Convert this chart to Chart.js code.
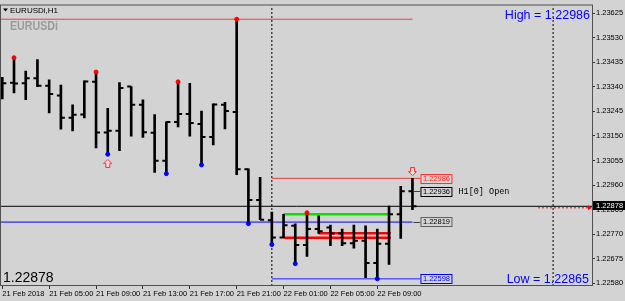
<!DOCTYPE html>
<html>
<head>
<meta charset="utf-8">
<title>EURUSDi,H1</title>
<script src="https://cdn.jsdelivr.net/npm/chart.js@4.4.1/dist/chart.umd.min.js"></script>
<style>
  html, body { margin: 0; padding: 0; background: #d3d3d3; }
  canvas { display: block; }
</style>
</head>
<body>
<canvas id="chart" width="625" height="301"></canvas>
<script>
// H1 bars from 21 Feb 01:00 to 22 Feb 12:00, index 0 = 21 Feb 01:00
var opens  = [1.23360, 1.23355, 1.23354, 1.23373, 1.23344, 1.23306, 1.23220, 1.23233, 1.23359, 1.23163,
              1.23170, 1.23341, 1.23270, 1.23162, 1.23054, 1.23204, 1.23235, 1.23196, 1.23146, 1.23270,
              1.23242, 1.23021, 1.22902, 1.22824, 1.22757, 1.22803, 1.22728, 1.22790, 1.22796, 1.22773,
              1.22735, 1.22745, 1.22659, 1.22733, 1.22847, 1.22936];
var highs  = [1.23376, 1.23452, 1.23401, 1.23445, 1.23367, 1.23346, 1.23270, 1.23363, 1.23397, 1.23257,
              1.23356, 1.23341, 1.23289, 1.23232, 1.23204, 1.23359, 1.23353, 1.23246, 1.23274, 1.23280,
              1.23601, 1.23023, 1.22990, 1.22856, 1.22847, 1.22810, 1.22853, 1.22841, 1.22805, 1.22790,
              1.22805, 1.22803, 1.22790, 1.22879, 1.22955, 1.22986];
var lows   = [1.23293, 1.23316, 1.23290, 1.23340, 1.23239, 1.23176, 1.23169, 1.23220, 1.23104, 1.23079,
              1.23093, 1.23149, 1.23144, 1.23009, 1.23004, 1.23185, 1.23149, 1.23038, 1.23115, 1.23177,
              1.23000, 1.22811, 1.22826, 1.22730, 1.22757, 1.22656, 1.22684, 1.22773, 1.22726, 1.22726,
              1.22716, 1.22602, 1.22598, 1.22653, 1.22754, 1.22865];
var closes = [1.23354, 1.23353, 1.23373, 1.23344, 1.23312, 1.23220, 1.23232, 1.23360, 1.23163, 1.23170,
              1.23335, 1.23270, 1.23164, 1.23054, 1.23204, 1.23235, 1.23200, 1.23146, 1.23271, 1.23246,
              1.23021, 1.22902, 1.22826, 1.22757, 1.22805, 1.22728, 1.22790, 1.22782, 1.22773, 1.22735,
              1.22745, 1.22659, 1.22733, 1.22847, 1.22936, 1.22878];

// fractal markers (bar indexes)
var fractalUp = [1, 8, 15, 20, 26];
var fractalDown = [9, 14, 17, 21, 23, 25, 32];

// signal arrows
var arrowUpBars = [9],    arrowUpVals = [1.23044];
var arrowDownBars = [35], arrowDownVals = [1.23012];

// axis ticks
var xTickBars = [0, 4, 8, 12, 16, 20, 24, 28, 32];
var xTickLabels = ["21 Feb 2018", "21 Feb 05:00", "21 Feb 09:00", "21 Feb 13:00", "21 Feb 17:00",
                   "21 Feb 21:00", "22 Feb 01:00", "22 Feb 05:00", "22 Feb 09:00"];
var yTicks = [1.22580, 1.22675, 1.22770, 1.22865, 1.22960, 1.23055, 1.23150, 1.23245, 1.23340,
              1.23435, 1.23530, 1.23625];

// price levels
var bid = 1.22878;
var dayHigh = 1.22986, dayLow = 1.22865;   // current bar
var prevHigh = 1.23601;
var levelBlue = 1.22817;
var labelHigh = 1.22986, labelOpen = 1.22936, labelMid = 1.22819, labelLow = 1.22598;
var boxGreen = 1.22847, boxRedA = 1.22774, boxRedB = 1.22756;
var daySeparators = [23, 47];

var X_MIN = -0.11, X_MAX = 50.32;
var Y_MIN = 1.22570, Y_MAX = 1.23654;
var TICK = 0.17;   // open/close tick offset in bar units

function hline(v, from, to, color, width, dash) {
  return {
    type: 'line',
    data: [{ x: from, y: v }, { x: to, y: v }],
    borderColor: color,
    borderWidth: width,
    borderDash: dash || [],
    pointRadius: 0,
    fill: false,
    order: 5
  };
}

function makeArrow(up) {
  var c = document.createElement('canvas');
  c.width = 9; c.height = 9;
  var g = c.getContext('2d');
  if (!up) { g.translate(0, 9); g.scale(1, -1); }
  g.beginPath();
  g.moveTo(4.5, 0.5); g.lineTo(8.5, 4.5); g.lineTo(6.5, 4.5); g.lineTo(6.5, 8.5);
  g.lineTo(2.5, 8.5); g.lineTo(2.5, 4.5); g.lineTo(0.5, 4.5); g.closePath();
  g.fillStyle = '#ece0e0';
  g.fill();
  g.strokeStyle = '#ff3030';
  g.lineWidth = 1;
  g.stroke();
  return c;
}

var datasets = [];

// fractal dots on top
datasets.push({
  type: 'scatter',
  data: fractalUp.map(function (i) { return { x: i, y: highs[i] }; }),
  pointStyle: 'circle', pointRadius: 2, borderWidth: 1,
  backgroundColor: '#ff0000', borderColor: '#ff0000', order: 0
});
datasets.push({
  type: 'scatter',
  data: fractalDown.map(function (i) { return { x: i, y: lows[i] }; }),
  pointStyle: 'circle', pointRadius: 2, borderWidth: 1,
  backgroundColor: '#0000ff', borderColor: '#0000ff', order: 0
});
datasets.push({
  type: 'scatter',
  data: arrowUpBars.map(function (b, k) { return { x: b, y: arrowUpVals[k] }; }),
  pointStyle: makeArrow(true), order: 0
});
datasets.push({
  type: 'scatter',
  data: arrowDownBars.map(function (b, k) { return { x: b, y: arrowDownVals[k] }; }),
  pointStyle: makeArrow(false), order: 0
});

// high-low sticks
datasets.push({
  type: 'bar',
  data: highs.map(function (h, i) { return { x: i, y: [lows[i], h] }; }),
  backgroundColor: '#000000',
  barThickness: 2,
  grouped: false,
  order: 1
});
// open (left) and close (right) ticks
datasets.push({
  type: 'scatter',
  data: opens.map(function (o, i) { return { x: i - TICK, y: o }; }),
  pointStyle: 'line', pointRadius: 2, borderWidth: 2, borderColor: '#000', order: 1
});
datasets.push({
  type: 'scatter',
  data: closes.map(function (c, i) { return { x: i + TICK, y: c }; }),
  pointStyle: 'line', pointRadius: 2, borderWidth: 2, borderColor: '#000', order: 1
});

// horizontal lines
datasets.push(hline(prevHigh, X_MIN, 35, 'rgb(232,64,64)', 1));
datasets.push(hline(bid, X_MIN, X_MAX, '#000000', 1));
datasets.push(hline(levelBlue, X_MIN, 35, '#0000ff', 1));
datasets.push(hline(labelHigh, 23, 35.7, 'rgb(232,64,64)', 1));
datasets.push(hline(labelLow, 23, 35.7, '#5a5aff', 1.5));
datasets.push(hline(boxGreen, 24, 33.15, '#00e600', 2.5));
datasets.push(hline(boxRedA, 27, 33.15, '#ff0000', 2.5));
datasets.push(hline(boxRedB, 24, 33.15, '#ff0000', 2.5));

// day separators
daySeparators.forEach(function (d) {
  datasets.push({
    type: 'line',
    data: [{ x: d, y: Y_MIN }, { x: d, y: Y_MAX }],
    borderColor: '#000', borderWidth: 1, borderDash: [2, 2],
    pointRadius: 0, fill: false, order: 6
  });
});

function priceBox(ctx, x, y, text, color, border) {
  ctx.fillStyle = '#d3d3d3';
  ctx.fillRect(x, y - 4.5, 31, 9);
  ctx.strokeStyle = border;
  ctx.lineWidth = 1;
  ctx.strokeRect(x + 0.5, Math.round(y - 4.5) + 0.5, 31, 9);
  ctx.fillStyle = color;
  ctx.font = "7.5px 'Liberation Sans'";
  ctx.textAlign = 'center';
  ctx.textBaseline = 'middle';
  ctx.fillText(text, x + 16, y + 0.5);
}

var decor = {
  id: 'decor',
  beforeDraw: function (chart) {
    var ctx = chart.ctx;
    ctx.save();
    ctx.fillStyle = '#d3d3d3';
    ctx.fillRect(0, 0, chart.width, chart.height);
    ctx.restore();
  },
  afterDatasetsDraw: function (chart) {
    var ctx = chart.ctx, a = chart.chartArea;
    var xs = chart.scales.x, ys = chart.scales.y;
    ctx.save();
    // frame
    ctx.strokeStyle = '#505050';
    ctx.lineWidth = 1;
    ctx.strokeRect(a.left - 0.5, a.top - 0.5, a.right - a.left + 1, a.bottom - a.top);

    // red dotted line with arrow at the right edge
    var yb = ys.getPixelForValue(bid) + 1.5;
    ctx.strokeStyle = '#ff0000';
    ctx.setLineDash([2, 2]);
    ctx.beginPath();
    ctx.moveTo(a.right - 54, yb);
    ctx.lineTo(a.right - 3, yb);
    ctx.stroke();
    ctx.setLineDash([]);
    ctx.fillStyle = '#ff0000';
    ctx.beginPath();
    ctx.moveTo(a.right, yb);
    ctx.lineTo(a.right - 4, yb - 2.5);
    ctx.lineTo(a.right - 4, yb + 2.5);
    ctx.closePath();
    ctx.fill();

    // right side price labels
    var bx = xs.getPixelForValue(35) + 8;
    ctx.strokeStyle = '#404040';
    ctx.beginPath();
    [labelOpen, labelMid].forEach(function (v) {
      var y = Math.round(ys.getPixelForValue(v)) + 0.5;
      ctx.moveTo(xs.getPixelForValue(35) + 1, y);
      ctx.lineTo(bx, y);
    });
    ctx.stroke();
    priceBox(ctx, bx, ys.getPixelForValue(labelHigh), labelHigh.toFixed(5), '#ff2020', '#ff3030');
    priceBox(ctx, bx, ys.getPixelForValue(labelOpen), labelOpen.toFixed(5), '#000', '#000');
    priceBox(ctx, bx, ys.getPixelForValue(labelMid), labelMid.toFixed(5), '#000', '#606060');
    priceBox(ctx, bx, ys.getPixelForValue(labelLow), labelLow.toFixed(5), '#0000ff', '#0000ff');

    ctx.fillStyle = '#000';
    ctx.font = "8.5px 'Liberation Mono'";
    ctx.textAlign = 'left';
    ctx.textBaseline = 'middle';
    ctx.fillText('H1[0] Open', bx + 38, ys.getPixelForValue(labelOpen) + 0.5);

    // titles
    ctx.fillStyle = '#000';
    ctx.beginPath();
    ctx.moveTo(a.left + 2, a.top + 3);
    ctx.lineTo(a.left + 7, a.top + 3);
    ctx.lineTo(a.left + 4.5, a.top + 6);
    ctx.closePath();
    ctx.fill();
    ctx.font = "8px 'Liberation Sans'";
    ctx.fillText('EURUSDi,H1', a.left + 9, a.top + 5);

    // grey watermark, squeezed to look condensed
    ctx.save();
    ctx.fillStyle = '#9a9a9a';
    ctx.font = "bold 13px 'Liberation Sans'";
    ctx.textBaseline = 'alphabetic';
    ctx.translate(a.left + 9, a.top + 24);
    ctx.scale(0.82, 1);
    ctx.fillText('EURUSDi', 0, 0);
    ctx.restore();

    ctx.fillStyle = '#0000ff';
    ctx.font = "12.5px 'Liberation Sans'";
    ctx.textAlign = 'right';
    ctx.textBaseline = 'alphabetic';
    ctx.fillText('High = ' + dayHigh.toFixed(5), a.right - 2, a.top + 13);
    ctx.fillText('Low = ' + dayLow.toFixed(5), a.right - 3, a.bottom - 3);

    ctx.fillStyle = '#000';
    ctx.font = "14px 'Liberation Sans'";
    ctx.textAlign = 'left';
    ctx.fillText(bid.toFixed(5), a.left + 2, a.bottom - 4);
    ctx.restore();
  },
  afterDraw: function (chart) {
    // bid label on the price axis
    var ctx = chart.ctx, a = chart.chartArea, ys = chart.scales.y;
    var y = ys.getPixelForValue(bid);
    ctx.save();
    ctx.fillStyle = '#000';
    ctx.fillRect(a.right + 1, Math.round(y) - 5, chart.width - a.right - 1, 9);
    ctx.fillStyle = '#fff';
    ctx.font = "7.5px 'Liberation Sans'";
    ctx.textAlign = 'left';
    ctx.textBaseline = 'middle';
    ctx.fillText(bid.toFixed(5), a.right + 4, Math.round(y) - 0.5);
    ctx.restore();
  }
};

Chart.defaults.font.family = "'Liberation Sans', Arial, sans-serif";
Chart.defaults.font.size = 7.5;
Chart.defaults.color = '#000';

new Chart(document.getElementById('chart'), {
  type: 'bar',
  data: { datasets: datasets },
  options: {
    responsive: false,
    animation: false,
    events: [],
    layout: { autoPadding: false, padding: { left: 1, top: 2, right: 0, bottom: 0 } },
    plugins: { legend: { display: false }, tooltip: { enabled: false } },
    scales: {
      x: {
        type: 'linear',
        min: X_MIN, max: X_MAX,
        offset: false,
        afterBuildTicks: function (s) { s.ticks = xTickBars.map(function (v) { return { value: v }; }); },
        afterFit: function (s) { s.height = 15; },
        grid: { drawOnChartArea: false, drawTicks: true, tickLength: 3, color: '#303030', offset: false },
        border: { display: false },
        ticks: {
          autoSkip: false, maxRotation: 0, minRotation: 0, align: 'start', padding: 0,
          color: '#000',
          callback: function (v, i) { return xTickLabels[i]; }
        }
      },
      y: {
        type: 'linear',
        position: 'right',
        min: Y_MIN, max: Y_MAX,
        beginAtZero: false,
        afterBuildTicks: function (s) { s.ticks = yTicks.map(function (v) { return { value: v }; }); },
        afterFit: function (s) { s.width = 33; },
        grid: { drawOnChartArea: false, drawTicks: true, tickLength: 3, color: '#303030' },
        border: { display: false },
        ticks: {
          padding: 1, color: '#000',
          callback: function (v) { return v.toFixed(5); }
        }
      }
    }
  },
  plugins: [decor]
});
</script>
</body>
</html>
